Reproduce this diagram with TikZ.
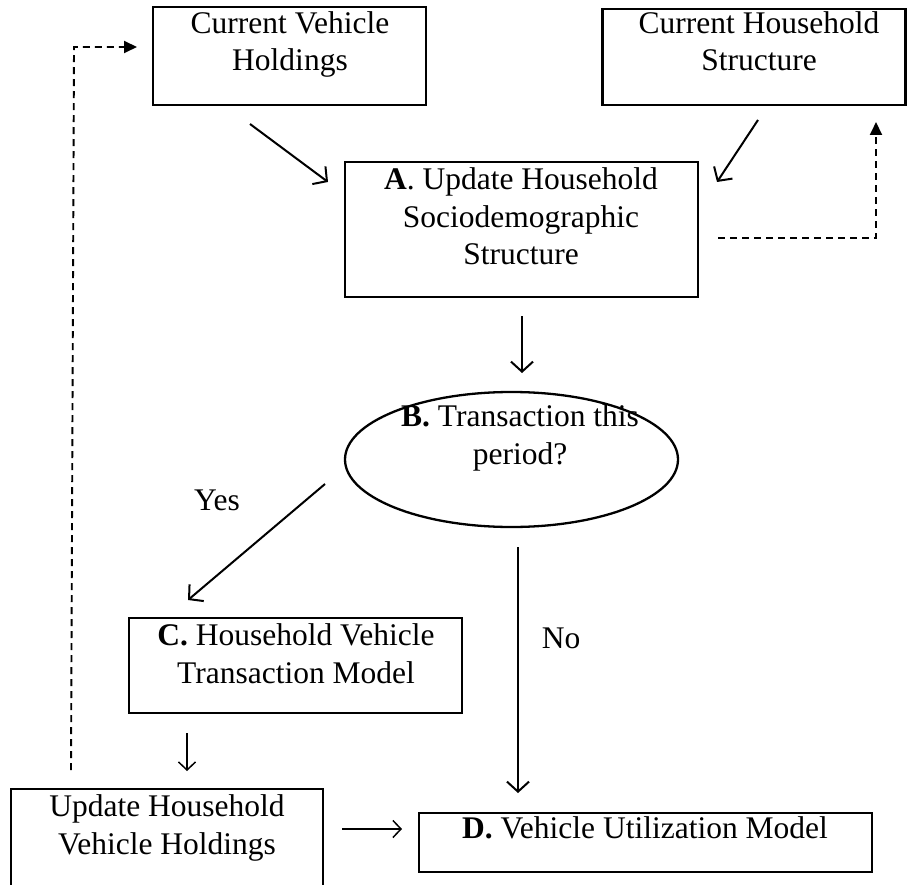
\documentclass[tikz,border=0pt]{standalone}
\usepackage{fontspec}
\setmainfont{Liberation Serif}
\usetikzlibrary{arrows.meta,shapes.geometric}
\begin{document}
\begin{tikzpicture}[x=1pt,y=-1pt,
  box/.style={draw, line width=2.3pt, inner sep=0pt},
  lbl/.style={font=\fontsize{31.5}{37.5}\selectfont, align=center, inner sep=0pt, anchor=base},
  arr/.style={line width=2pt, -{Straight Barb[length=10pt,width=22pt,line width=2pt]}},
  sarr/.style={line width=1.5pt, -{Straight Barb[length=8pt,width=17pt,line width=1.5pt]}},
  darr/.style={line width=1.9pt, dash pattern=on 7pt off 5pt, -{Triangle[length=13pt,width=12pt]}}]
\useasboundingbox (0,0) rectangle (907,885);
% boxes
\node[box, minimum width=273, minimum height=98] (cvh) at (289.5,56) {};
\node[box, minimum width=303, minimum height=96] (chs) at (754,57) {};
\node[box, minimum width=353, minimum height=135] (ua) at (521.5,229.5) {};
\node[draw, line width=2.3pt, ellipse, minimum width=333, minimum height=135, inner sep=0pt] (tb) at (511.5,459.5) {};
\node[box, minimum width=333, minimum height=95] (hc) at (295.5,665.5) {};
\node[box, minimum width=312, minimum height=110] (uh) at (167,844) {};
\node[box, minimum width=453, minimum height=59] (vd) at (645.5,842.5) {};
% texts (anchor = baseline of last line)
\node[lbl] (tcvh) at (290,71) {Current Vehicle\\Holdings};
\node[lbl] (tchs) at (759,71) {Current Household\\Structure};
\node[lbl] (tua) at (521,265) {\textbf{A}. Update Household\\Sociodemographic\\Structure};
\node[lbl] (ttb) at (520,464) {\textbf{B.} Transaction this\\period?};
\node[lbl] (thc) at (296,683) {\textbf{C.} Household Vehicle\\Transaction Model};
\node[lbl] (tuh) at (167,854) {Update Household\\Vehicle Holdings};
\node[lbl] (tvd) at (645,838) {\textbf{D.} Vehicle Utilization Model};
\node[lbl] (yes) at (217,510) {Yes};
\node[lbl] (no) at (561,648) {No};
% connector end points
\coordinate (p1) at (250,124); \coordinate (q1) at (328,182);
\coordinate (p2) at (758,120); \coordinate (q2) at (717,182);
\coordinate (p3) at (522,316); \coordinate (q3) at (522,373);
\coordinate (p4) at (325,484); \coordinate (q4) at (188,600);
\coordinate (p5) at (518,547); \coordinate (q5) at (518,793);
\coordinate (p6) at (187,733); \coordinate (q6) at (187,771);
\coordinate (p7) at (342,829); \coordinate (q7) at (402,829);
\coordinate (p8) at (718,238); \coordinate (c8) at (876,238); \coordinate (q8) at (876,122);
\coordinate (p9) at (71,770); \coordinate (c9) at (74,47); \coordinate (q9) at (137,47);
% connectors
\draw[arr] (p1) -- (q1);
\draw[arr] (p2) -- (q2);
\draw[arr] (p3) -- (q3);
\draw[arr] (p4) -- (q4);
\draw[arr] (p5) -- (q5);
\draw[sarr] (p6) -- (q6);
\draw[sarr] (p7) -- (q7);
\draw[darr] (p8) -- (c8) -- (q8);
\draw[darr] (p9) -- (c9) -- (q9);
\end{tikzpicture}
\end{document}
